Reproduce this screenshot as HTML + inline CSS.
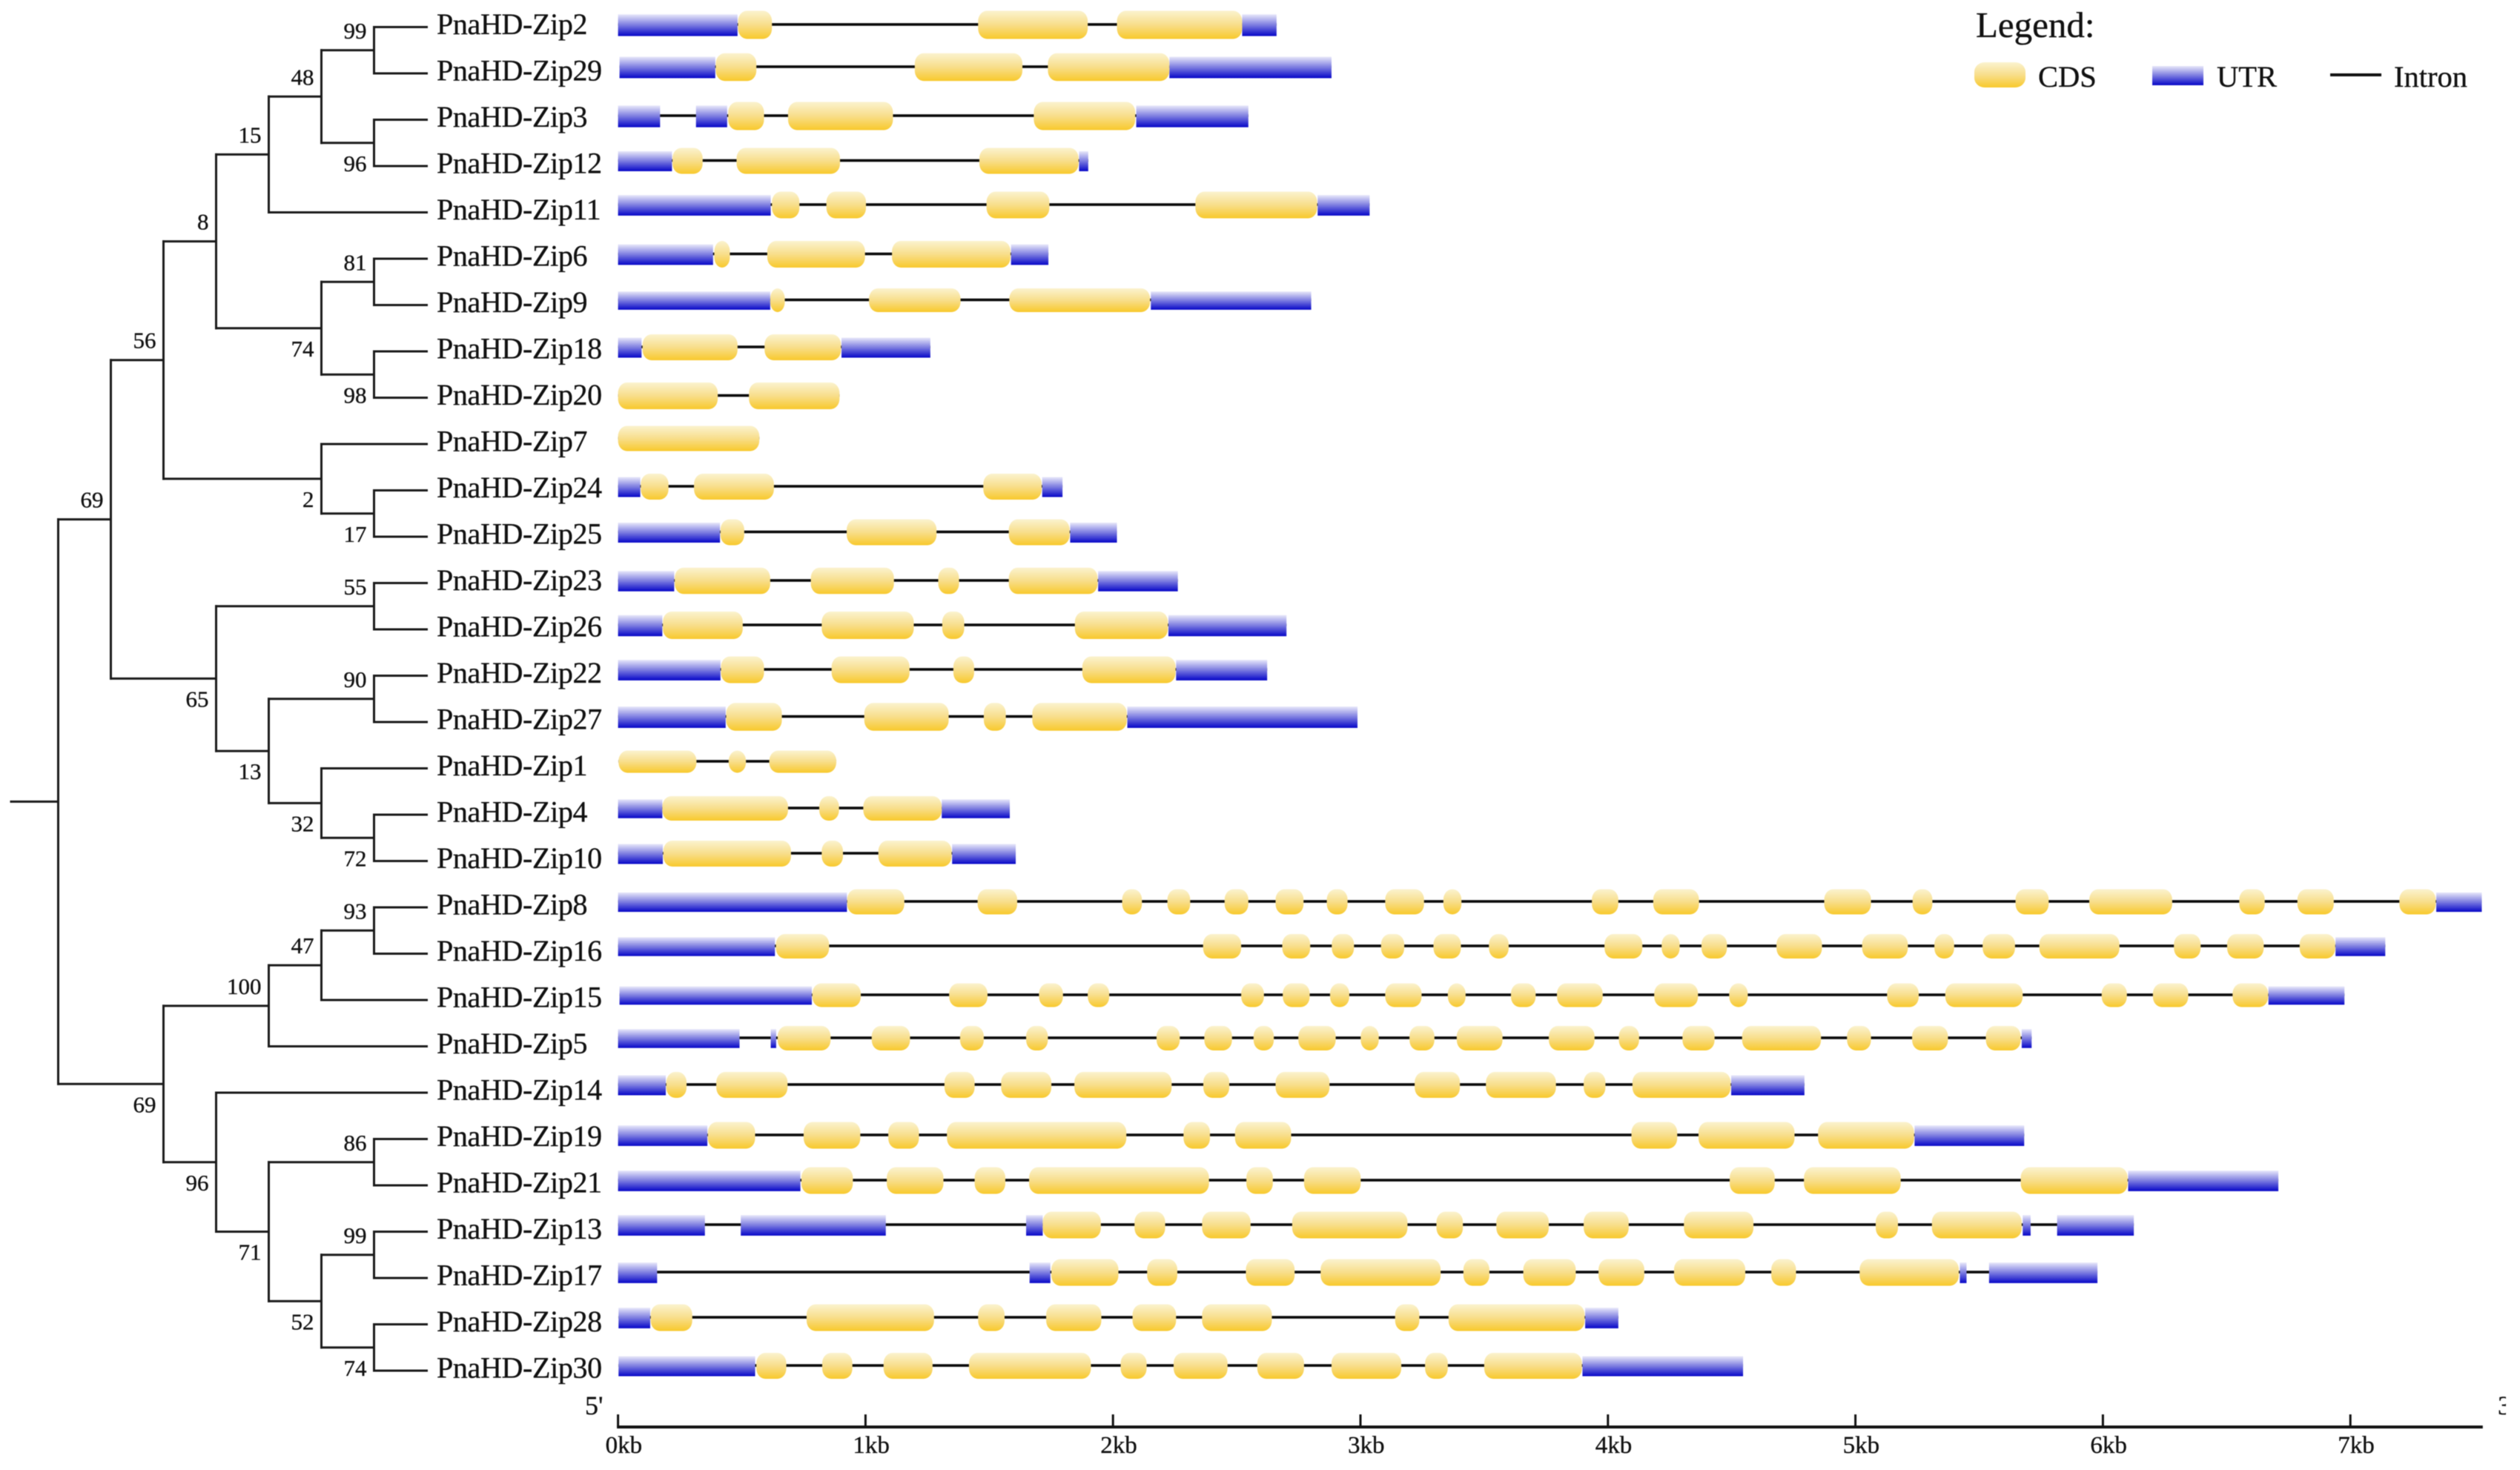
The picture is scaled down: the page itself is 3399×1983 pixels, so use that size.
<!DOCTYPE html>
<html lang="en">
<head>
<meta charset="utf-8">
<title>PnaHD-Zip phylogeny and gene structure</title>
<style>
html,body{margin:0;padding:0;background:#fff;}
svg{display:block;filter:blur(0.6px);}
text{font-family:"Liberation Serif",serif;fill:#111;stroke:#111;stroke-width:0.35px;}
</style>
</head>
<body>
<svg id="chart" xmlns="http://www.w3.org/2000/svg" width="3399" height="1983" viewBox="0 0 3399 1983">
<defs>
<linearGradient id="cdsGrad" x1="0" y1="0" x2="0" y2="1">
<stop offset="0" stop-color="#fbf3cf"/>
<stop offset="0.5" stop-color="#f8de8b"/>
<stop offset="1" stop-color="#f8c92c"/>
</linearGradient>
<linearGradient id="utrGrad" x1="0" y1="0" x2="0" y2="1">
<stop offset="0" stop-color="#e8e8fa"/>
<stop offset="0.5" stop-color="#7a7ae0"/>
<stop offset="1" stop-color="#0606c8"/>
</linearGradient>
<clipPath id="pageClip"><rect x="0" y="0" width="3380" height="1983"/></clipPath>
</defs>
<rect x="0" y="0" width="3399" height="1983" fill="#fff"/>
<g id="tree"></g>
<g id="genes"></g>
<g id="axis"></g>
<g>
<text x="2665" y="50" font-size="49">Legend:</text>
<rect x="2663" y="84" width="69" height="34" rx="14" ry="13" fill="url(#cdsGrad)"/>
<text x="2749" y="117" font-size="40.5">CDS</text>
<rect x="2903" y="89" width="69" height="26" fill="url(#utrGrad)"/>
<text x="2990" y="117" font-size="40.5">UTR</text>
<rect x="3143" y="99" width="69" height="4" fill="#111"/>
<text x="3229" y="117" font-size="40.5">Intron</text>
</g>
</svg>
<script>
const geneNames = ["PnaHD-Zip2","PnaHD-Zip29","PnaHD-Zip3","PnaHD-Zip12","PnaHD-Zip11","PnaHD-Zip6","PnaHD-Zip9","PnaHD-Zip18","PnaHD-Zip20","PnaHD-Zip7","PnaHD-Zip24","PnaHD-Zip25","PnaHD-Zip23","PnaHD-Zip26","PnaHD-Zip22","PnaHD-Zip27","PnaHD-Zip1","PnaHD-Zip4","PnaHD-Zip10","PnaHD-Zip8","PnaHD-Zip16","PnaHD-Zip15","PnaHD-Zip5","PnaHD-Zip14","PnaHD-Zip19","PnaHD-Zip21","PnaHD-Zip13","PnaHD-Zip17","PnaHD-Zip28","PnaHD-Zip30"];

/* UTR spans in base pairs, one list per gene */
const utrSpans = [
[[0,483],[2522,2661]],
[[6,393],[2228,2883]],
[[0,170],[315,441],[2094,2547]],
[[0,218],[1863,1900]],
[[0,617],[2827,3037]],
[[0,384],[1588,1739]],
[[0,615],[2153,2801]],
[[0,95],[903,1262]],
[],
[],
[[0,90],[1714,1796]],
[[0,412],[1827,2016]],
[[0,227],[1940,2262]],
[[0,179],[2224,2701]],
[[0,414],[2255,2623]],
[[0,435],[2058,2988]],
[],
[[0,179],[1308,1583]],
[[0,181],[1350,1607]],
[[0,925],[7347,7531]],
[[0,634],[6940,7141]],
[[6,783],[6669,6976]],
[[0,491],[617,639],[5672,5712]],
[[0,193],[4498,4794]],
[[0,361],[5239,5682]],
[[0,737],[6102,6709]],
[[0,351],[496,1082],[1649,1716],[5676,5708],[5815,6125]],
[[0,158],[1663,1747],[5422,5449],[5540,5978]],
[[2,130],[3908,4042]],
[[2,554],[3897,4546]]
];

/* CDS spans in base pairs, one list per gene */
const cdsSpans = [
[[485,622],[1455,1898],[2016,2522]],
[[395,559],[1199,1634],[1737,2228]],
[[445,590],[687,1111],[1680,2090]],
[[220,342],[479,897],[1460,1861]],
[[622,733],[842,1002],[1489,1743],[2333,2825]],
[[389,452],[603,998],[1107,1586]],
[[615,674],[1014,1384],[1581,2150]],
[[99,483],[592,901]],
[[0,403],[529,895]],
[[0,571]],
[[92,204],[307,630],[1476,1712]],
[[414,510],[924,1287],[1579,1825]],
[[229,615],[779,1115],[1294,1378],[1579,1938]],
[[181,504],[823,1195],[1310,1399],[1846,2222]],
[[416,590],[863,1178],[1355,1439],[1876,2253]],
[[437,662],[995,1336],[1478,1567],[1674,2056]],
[[2,317],[447,517],[611,882]],
[[179,687],[813,893],[991,1308]],
[[183,699],[823,909],[1052,1348]],
[[926,1157],[1453,1613],[2037,2117],[2220,2312],[2451,2547],[2657,2770],[2864,2948],[3100,3257],[3335,3408],[3935,4042],[4183,4368],[4874,5063],[5231,5311],[5647,5781],[5945,6280],[6551,6654],[6786,6933],[7198,7345]],
[[638,853],[2364,2518],[2684,2797],[2884,2974],[3083,3177],[3295,3406],[3519,3599],[3986,4139],[4217,4290],[4378,4481],[4681,4865],[5027,5212],[5319,5399],[5514,5645],[5743,6067],[6287,6395],[6502,6650],[6795,6939]],
[[785,981],[1338,1493],[1701,1798],[1898,1985],[2518,2610],[2686,2795],[2877,2955],[3100,3247],[3353,3425],[3608,3708],[3794,3979],[4187,4364],[4490,4565],[5128,5256],[5363,5676],[5995,6097],[6202,6345],[6524,6668]],
[[645,859],[1025,1180],[1382,1478],[1649,1737],[2176,2270],[2369,2481],[2568,2650],[2749,2900],[3001,3074],[3198,3299],[3389,3574],[3761,3946],[4044,4126],[4301,4431],[4542,4861],[4966,5063],[5229,5374],[5527,5668]],
[[195,277],[397,685],[1319,1441],[1548,1751],[1844,2237],[2365,2470],[2657,2875],[3219,3402],[3507,3790],[3902,3990],[4099,4496]],
[[363,554],[750,979],[1092,1216],[1329,2054],[2285,2392],[2493,2720],[4095,4280],[4366,4754],[4849,5237]],
[[741,949],[1086,1315],[1441,1565],[1661,2388],[2539,2646],[2772,3001],[4492,4674],[4792,5183],[5668,6100]],
[[1716,1951],[2087,2211],[2360,2556],[2724,3190],[3307,3414],[3549,3761],[3902,4084],[4307,4588],[5082,5172],[5309,5672]],
[[1751,2022],[2138,2260],[2537,2734],[2839,3324],[3416,3521],[3658,3870],[3962,4147],[4267,4555],[4660,4760],[5017,5418]],
[[132,300],[762,1277],[1455,1562],[1730,1953],[2079,2255],[2360,2642],[3140,3238],[3356,3906]],
[[559,680],[825,947],[1073,1271],[1418,1911],[2031,2136],[2245,2463],[2583,2772],[2883,3165],[3261,3353],[3500,3895]]
];

/* Axis data */
const tickKb = [0,1,2,3,4,5,6,7];
const tickLabels = ["0kb","1kb","2kb","3kb","4kb","5kb","6kb","7kb"];
const axisEndBp = 7535;

/* Tree: [bootstrap, depth, upperChild, lowerChild]; leaves are gene names */
const treeRoot = [null,0,
  [69,1,
    [56,2,
      [8,3,
        [15,4,
          [48,5,
            [99,6,"PnaHD-Zip2","PnaHD-Zip29"],
            [96,6,"PnaHD-Zip3","PnaHD-Zip12"]],
          "PnaHD-Zip11"],
        [74,5,
          [81,6,"PnaHD-Zip6","PnaHD-Zip9"],
          [98,6,"PnaHD-Zip18","PnaHD-Zip20"]]],
      [2,5,
        "PnaHD-Zip7",
        [17,6,"PnaHD-Zip24","PnaHD-Zip25"]]],
    [65,3,
      [55,6,"PnaHD-Zip23","PnaHD-Zip26"],
      [13,4,
        [90,6,"PnaHD-Zip22","PnaHD-Zip27"],
        [32,5,
          "PnaHD-Zip1",
          [72,6,"PnaHD-Zip4","PnaHD-Zip10"]]]]],
  [69,2,
    [100,4,
      [47,5,
        [93,6,"PnaHD-Zip8","PnaHD-Zip16"],
        "PnaHD-Zip15"],
      "PnaHD-Zip5"],
    [96,3,
      "PnaHD-Zip14",
      [71,4,
        [86,6,"PnaHD-Zip19","PnaHD-Zip21"],
        [52,5,
          [99,6,"PnaHD-Zip13","PnaHD-Zip17"],
          [74,6,"PnaHD-Zip28","PnaHD-Zip30"]]]]]];

const SVGNS = "http://www.w3.org/2000/svg";
function mk(tag, attrs, parent){
  const el = document.createElementNS(SVGNS, tag);
  for (const k in attrs) el.setAttribute(k, attrs[k]);
  parent.appendChild(el);
  return el;
}

/* Axis functions */
function xBp(bp){ return 833.6 + bp * 0.3338; }
function xDepth(d){ return 78.5 + 71 * d; }
function yLeaf(i){ return 36.5 + 62.5 * i; }
function yRow(i){
  return [33,90,156,216.5,276,342.5,404.5,468,533.5,591,656,717.5,783,843,903,966.5,1027,1090,1151,1216,1276,1342,1400,1463,1531,1592,1652,1716,1777,1842][i];
}
function hRow(i){
  return [38,37.5,38,35,36,36,32,35,36,34,35,35,35.6,37,36,37.5,30,33,35,34,33,32,33,35,36,36,36,36,36,35][i];
}

/* Gene structures */
const genesG = document.getElementById("genes");
geneNames.forEach(function(name, i){
  const y = yRow(i);
  const h = hRow(i);
  const g = mk("g", {}, genesG);
  
  
  const all = utrSpans[i].concat(cdsSpans[i]);
  const lo = Math.min.apply(null, all.map(function(s){ return s[0]; }));
  const hi = Math.max.apply(null, all.map(function(s){ return s[1]; }));
  const intron = mk("rect", {x:xBp(lo), y:y-1.8, width:xBp(hi)-xBp(lo), height:3.6, fill:"#0a0a0a"}, g);
  
  
  utrSpans[i].forEach(function(s){
    const uh = h * 0.77;
    const r = mk("rect", {x:xBp(s[0]), y:y+1-uh/2, width:xBp(s[1])-xBp(s[0]), height:uh, fill:"url(#utrGrad)"}, g);
    
    
  });
  cdsSpans[i].forEach(function(s){
    const w = xBp(s[1]) - xBp(s[0]);
    const r = mk("rect", {x:xBp(s[0]), y:y+0.5-h/2, width:w, height:h, rx:Math.min(12,w/2), ry:Math.min(14,h/2), fill:"url(#cdsGrad)"}, g);
    
    
  });
  const label = mk("text", {x:589, y:yLeaf(i)+9.5, "font-size":40, "letter-spacing":"-0.35"}, g);
  
  
  label.textContent = name;
});

/* Tree */
const treeG = document.getElementById("tree");
function treeLine(x1, y1, x2, y2, name){
  const ln = mk("line", {x1:x1, y1:y1, x2:x2, y2:y2, stroke:"#1a1a1a", "stroke-width":3, "stroke-linecap":"square"}, treeG);
  
  
}
function nodeY(n){
  if (typeof n === "string") return yLeaf(geneNames.indexOf(n));
  return (nodeY(n[2]) + nodeY(n[3])) / 2;
}
function drawNode(n, isLower){
  const x = xDepth(n[1]);
  const y = nodeY(n);
  const kids = [n[2], n[3]];
  treeLine(x, nodeY(n[2]), x, nodeY(n[3]), "tree-branch-vertical");
  kids.forEach(function(k, idx){
    const kx = typeof k === "string" ? xDepth(7) : xDepth(k[1]);
    treeLine(x, nodeY(k), kx, nodeY(k), "tree-branch-horizontal");
    if (typeof k !== "string") drawNode(k, idx === 1);
  });
  if (n[0] !== null){
    const t = mk("text", {x:x-10, y:isLower ? y+38 : y-16, "font-size":31, "text-anchor":"end"}, treeG);
    
    
    t.textContent = String(n[0]);
  }
}
treeLine(15, nodeY(treeRoot), xDepth(0), nodeY(treeRoot), "tree-root-stub");
drawNode(treeRoot, false);

/* Axis */
const axisG = document.getElementById("axis");
const AXIS_Y = 1925;
const axisLine = mk("rect", {x:xBp(0)-1.5, y:AXIS_Y-2, width:xBp(axisEndBp)-xBp(0)+1.5, height:4, fill:"#111"}, axisG);


tickKb.forEach(function(kb, i){
  const tx = xBp(kb * 1000);
  const tick = mk("rect", {x:tx-1.5, y:AXIS_Y-17, width:3, height:17, fill:"#111"}, axisG);
  
  
  const lab = mk("text", {x:tx-17, y:1960, "font-size":33}, axisG);
  
  
  lab.textContent = tickLabels[i];
});
const fivePrime = mk("text", {x:789, y:1908, "font-size":36}, axisG);


fivePrime.textContent = "5'";
const threePrime = mk("text", {x:3369, y:1908, "font-size":36, "clip-path":"url(#pageClip)"}, axisG);


threePrime.textContent = "3'";
</script>
</body>
</html>
